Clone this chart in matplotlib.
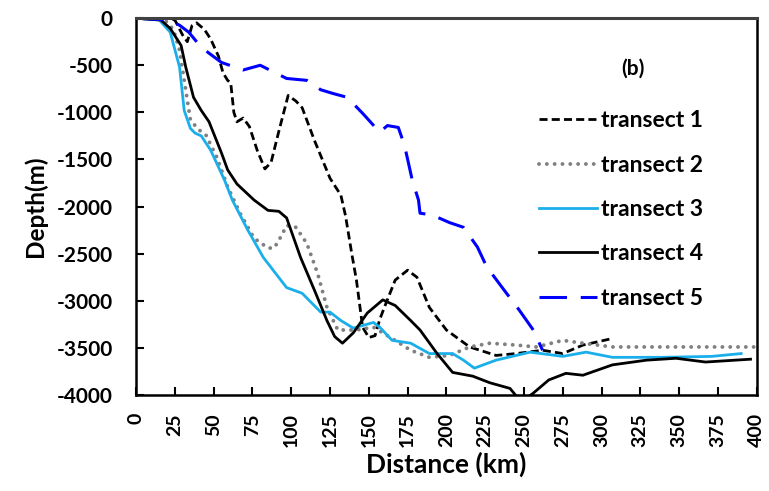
import matplotlib
matplotlib.use('Agg')
import matplotlib.pyplot as plt

## data (distance in km, depth in m) ##

t1_km = [0, 20, 25, 30, 33, 36, 39, 44, 48, 53, 56, 59, 61, 63, 65, 69, 73, 78, 83, 87,
         92, 98, 103, 107, 115, 125, 132, 135, 139, 142, 146, 150, 154, 157, 160, 167,
         175, 181, 189, 200, 215, 232, 245, 262, 275, 288, 307]
t1_depth = [0, 0, -20, -180, -250, -80, -50, -120, -220, -400, -580, -660, -690, -1000,
            -1100, -1060, -1150, -1400, -1600, -1530, -1200, -820, -880, -950, -1300,
            -1700, -1880, -2100, -2500, -2780, -3280, -3390, -3370, -3200, -3070, -2780,
            -2675, -2750, -3070, -3310, -3490, -3580, -3560, -3525, -3560, -3470, -3400]

t2_km = [0, 18, 24, 28, 33, 35, 40, 45, 52, 59, 67, 76, 85, 89, 94, 97, 103, 110, 117, 123,
         130, 142, 153, 164, 177, 189, 202, 215, 228, 245, 258, 275, 288, 307, 339, 400]
t2_depth = [0, -10, -120, -340, -870, -1080, -1180, -1240, -1475, -1790, -2070, -2335,
            -2440, -2440, -2300, -2200, -2220, -2390, -2710, -3070, -3310, -3310, -3280,
            -3390, -3525, -3600, -3580, -3490, -3450, -3470, -3490, -3420, -3450, -3490,
            -3490, -3490]

t3_km = [0, 15, 22, 28, 31, 35, 38, 42, 48, 57, 62, 72, 82, 97, 107, 119, 125, 132, 140,
         153, 157, 165, 177, 189, 204, 211, 218, 232, 254, 275, 290, 307, 339, 371, 390]
t3_depth = [0, -20, -150, -520, -980, -1170, -1220, -1250, -1400, -1720, -1930, -2250,
            -2540, -2860, -2920, -3120, -3120, -3210, -3290, -3230, -3280, -3420, -3450,
            -3560, -3560, -3630, -3715, -3630, -3545, -3590, -3545, -3600, -3600, -3590,
            -3560]

t4_km = [0, 16, 22, 29, 32, 37, 42, 47, 55, 59, 65, 76, 85, 92, 97, 106, 115, 123, 128,
         133, 140, 149, 159, 167, 177, 183, 194, 204, 217, 228, 241, 246, 252, 256, 266,
         277, 288, 307, 329, 348, 367, 396]
t4_depth = [0, -20, -110, -290, -520, -840, -980, -1100, -1430, -1610, -1760, -1930,
            -2040, -2050, -2120, -2540, -2890, -3210, -3380, -3450, -3340, -3130, -2990,
            -3050, -3210, -3310, -3560, -3760, -3800, -3870, -3930, -4030, -4030, -3980,
            -3840, -3770, -3790, -3680, -3630, -3610, -3650, -3620]

t5_km = [0, 21, 28, 34, 42, 55, 69, 80, 97, 110, 119, 127, 136, 146, 157, 162, 169, 173,
         178, 182, 183, 191, 202, 211, 220, 226, 236, 247, 256, 262]
t5_depth = [0, -20, -75, -150, -310, -470, -550, -500, -640, -660, -760, -800, -840,
            -1010, -1210, -1140, -1160, -1350, -1720, -1930, -2070, -2090, -2170, -2220,
            -2430, -2640, -2860, -3100, -3310, -3525]

x_ticks = list(range(0, 401, 25))
y_ticks = list(range(-4000, 1, 500))


## plot ##

plt.rcParams['font.family'] = ['Lato', 'DejaVu Sans']
plt.rcParams['font.weight'] = 'bold'

fig = plt.figure(figsize=(7.69, 4.91), dpi=100)
ax = fig.add_axes([0.177, 0.1955, 0.807, 0.7675])

ax.plot(t1_km, t1_depth, color='black', lw=2.0, linestyle=(0, (2.9, 1.5)), label='transect 1')
ax.plot(t2_km, t2_depth, color='#808080', lw=2.8, linestyle=(0, (0.01, 2.0)),
        dash_capstyle='round', label='transect 2')
ax.plot(t3_km, t3_depth, color='#1AAFEA', lw=2.0, label='transect 3')
ax.plot(t4_km, t4_depth, color='black', lw=2.0, label='transect 4')
ax.plot(t5_km, t5_depth, color='#0000FF', lw=2.2, linestyle=(0, (9, 4.5)), label='transect 5')

ax.set_xlim(0, 400)
ax.set_ylim(-4000, 0)
ax.set_xticks(x_ticks)
ax.set_yticks(y_ticks)
ax.set_xticklabels([str(v) for v in x_ticks], rotation=90, fontsize=14, fontweight='bold')
ax.set_yticklabels([str(v) for v in y_ticks], fontsize=15, fontweight='bold')
ax.tick_params(direction='in', length=6, width=1.5, top=False, right=False)
ax.tick_params(axis='y', pad=17)
ax.tick_params(axis='x', pad=13)

for side in ['left', 'bottom', 'right']:
    ax.spines[side].set_linewidth(1.8)
    ax.spines[side].set_color('black')
ax.spines['top'].set_linewidth(2.2)
ax.spines['top'].set_color('#404040')

ax.set_xlabel('Distance (km)', fontsize=19, fontweight='bold', labelpad=3)
ax.set_ylabel('Depth(m)', fontsize=17.5, fontweight='bold', labelpad=7)

ax.text(0.80, 0.867, '(b)', transform=ax.transAxes, fontsize=15, fontweight='bold',
        ha='center', va='center')

leg = ax.legend(loc='upper left', bbox_to_anchor=(0.635, 0.78), frameon=False,
                fontsize=16.5, handlelength=2.5, handletextpad=0.2, labelspacing=1.02,
                borderaxespad=0)
for t in leg.get_texts():
    t.set_fontweight('bold')

fig.savefig('out.png', dpi=100)
